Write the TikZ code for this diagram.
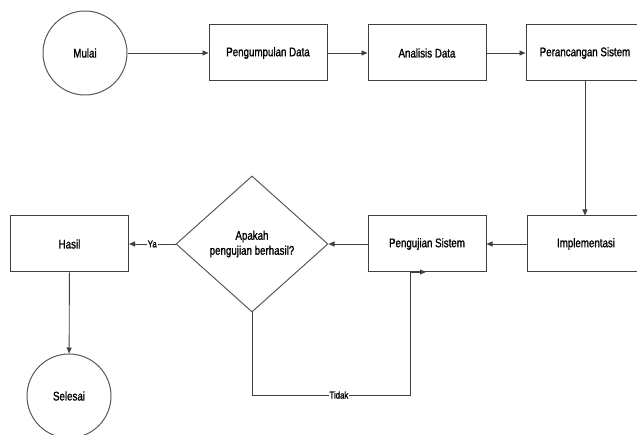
\documentclass[tikz,border=0pt]{standalone}
\usepackage{fontspec}
\setmainfont[FakeStretch=0.78,FakeBold=1.2]{Liberation Sans}
\usetikzlibrary{arrows.meta,shapes.geometric}
\begin{document}
\begin{tikzpicture}[x=1pt,y=-1pt,
  box/.style={draw=black!75,line width=1pt,fill=white,minimum width=118pt,minimum height=56pt,inner sep=0pt,font=\fontsize{12.5}{14}\selectfont},
  term/.style={draw=black!65,line width=1pt,fill=white,circle,minimum size=84pt,inner sep=0pt,font=\fontsize{12.5}{14}\selectfont},
  dec/.style={draw=black!65,line width=1pt,fill=white,diamond,minimum width=152pt,minimum height=136pt,inner sep=0pt,align=center,font=\fontsize{12.5}{15}\selectfont},
  conn/.style={draw=black!75,line width=0.9pt,-{Triangle[length=6pt,width=5pt]}},
  lbl/.style={fill=white,inner sep=1pt,font=\fontsize{10}{12}\selectfont}]
\clip (0,0) rectangle (637,435);
\node[term] (mulai) at (85,53) {Mulai};
\node[box] (kumpul) at (268,53) {Pengumpulan Data};
\node[box] (analisis) at (427,53) {Analisis Data};
\node[box] (rancang) at (585,53) {Perancangan Sistem};
\node[box] (impl) at (586,244) {Implementasi};
\node[box] (uji) at (427,244) {Pengujian Sistem};
\node[dec] (cek) at (252,244) {Apakah\\pengujian berhasil?};
\node[box] (hasil) at (69.5,244) {Hasil};
\node[term] (selesai) at (69,396) {Selesai};
\coordinate (c1) at (252,395);
\coordinate (c2) at (410,395);
\coordinate (c3) at (410,272);
\coordinate (c4) at (426,272);
\draw[conn] (mulai) -- (kumpul);
\draw[conn] (kumpul) -- (analisis);
\draw[conn] (analisis) -- (rancang);
\draw[conn] (rancang.south) -- (impl.north -| rancang.south);
\draw[conn] (impl) -- (uji);
\draw[conn] (uji) -- (cek);
\draw[conn] (cek) -- node[lbl] {Ya} (hasil);
\draw[conn] (hasil) -- (selesai);
\draw[conn] (cek.south) -- (c1) -- node[lbl,pos=0.55] {Tidak} (c2) -- (c3) -- (c4);
\end{tikzpicture}
\end{document}
